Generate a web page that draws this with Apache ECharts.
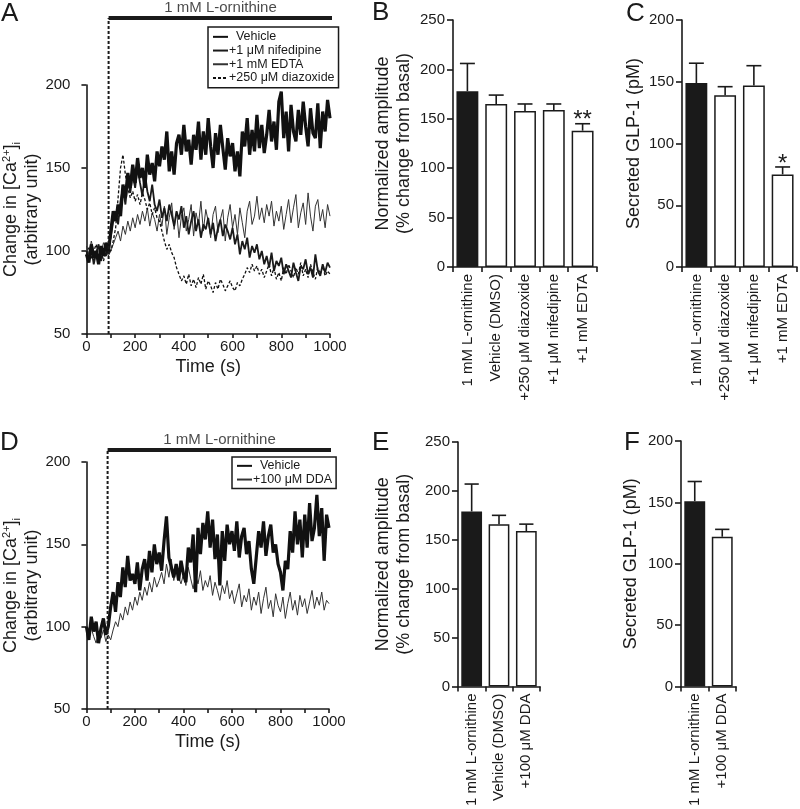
<!DOCTYPE html>
<html>
<head>
<meta charset="utf-8">
<script src="https://cdn.jsdelivr.net/npm/echarts@6/dist/echarts.min.js"></script>
<style>html,body{margin:0;padding:0;background:#fff}#main{width:800px;height:809px}</style>
</head>
<body>
<div id="main"></div>
<script>
// ---------------- DATA ----------------
const timeStep = 10; // seconds between samples
const timeTicks = [0, 200, 400, 600, 800, 1000];
const onsetTime = 100;
const barEndTime = 1010;
const treatmentLabel = '1 mM L-ornithine';

const aVehicle = [98,93,104,96,100,92,103,97,105,99,
  112,124,118,128,121,140,132,147,138,152,
  141,156,144,150,138,158,146,153,142,160,
  151,163,155,172,148,160,146,165,170,158,
  176,160,167,152,170,161,178,155,172,158,
  180,163,150,171,158,176,162,149,168,157,
  165,148,160,145,172,163,180,158,173,160,
  182,162,176,159,170,185,166,178,161,190,
  196,168,184,160,188,172,166,185,170,190,
  175,163,186,171,168,189,162,184,172,191,
  180];
const aNifedipine = [100,95,102,92,99,104,94,101,97,103,
  108,118,124,116,130,138,128,142,135,146,
  138,150,141,133,147,136,130,140,128,124,
  131,120,126,118,128,122,115,124,119,127,
  114,121,110,118,124,112,119,108,116,113,
  120,110,117,106,114,119,109,116,112,107,
  114,104,110,98,106,101,108,96,103,99,
  104,95,100,92,97,90,99,88,94,91,
  96,86,92,88,84,93,87,82,91,89,
  95,86,90,84,98,88,85,92,87,93,
  90];
const aEdta = [103,98,106,100,96,102,99,105,101,97,
  100,104,108,112,106,115,110,118,112,120,
  114,122,116,124,118,126,115,123,119,112,
  122,115,127,110,120,129,113,124,108,121,
  126,112,119,128,109,123,116,130,112,125,
  118,108,122,127,111,119,125,106,120,128,
  114,122,110,126,117,108,124,130,116,121,
  133,119,126,117,128,121,130,115,124,118,
  127,113,122,131,117,126,134,114,123,129,
  116,135,121,112,127,131,118,125,114,128,
  121];
const aDiazoxide = [98,102,95,100,104,97,101,94,99,103,
  100,106,114,132,150,158,146,138,132,136,
  130,134,128,135,131,125,129,122,126,120,
  118,112,106,101,104,99,96,90,86,82,
  85,80,86,79,83,78,84,80,86,77,
  82,79,75,81,77,83,80,76,79,82,
  78,76,81,79,83,86,90,87,92,88,
  91,86,89,84,88,92,85,90,83,87,
  82,90,86,92,88,84,90,86,93,85,
  89,84,92,87,83,90,86,91,85,88,
  86];
const dVehicle = [100,92,106,97,103,90,99,105,95,100,
  112,121,109,127,118,136,124,143,128,132,
  126,139,122,135,141,128,146,133,150,138,
  145,134,152,167,142,136,130,138,128,140,
  132,127,148,139,156,121,160,144,163,153,
  170,148,165,141,156,125,158,140,162,150,
  158,146,164,142,155,160,144,152,135,126,
  142,158,148,164,143,155,162,145,150,138,
  133,122,140,135,158,145,170,150,165,142,
  168,148,175,152,160,180,155,172,140,168,
  160];
const dDda = [96,92,99,94,90,97,93,98,91,95,
  92,98,103,100,108,104,112,107,115,110,
  118,113,121,116,124,119,127,121,130,124,
  128,133,126,138,130,141,128,135,130,126,
  132,125,136,129,123,131,126,134,122,128,
  124,131,119,127,122,116,125,120,128,117,
  122,114,120,126,112,119,115,123,110,118,
  113,121,108,117,124,111,116,106,120,113,
  109,118,105,114,121,110,116,107,119,112,
  117,108,115,122,111,118,113,121,110,116,
  114];

const bCats = ['1 mM L-ornithine','Vehicle (DMSO)','+250 μM diazoxide','+1 μM nifedipine','+1 mM EDTA'];
const bMeans = [178,165,158,159,138];
const bErr = [28,9,7,6,7];
const bSig = ['','','','','**'];

const cCats = ['1 mM L-ornithine','+250 μM diazoxide','+1 μM nifedipine','+1 mM EDTA'];
const cMeans = [149,139,147,75];
const cErr = [16,7,16,6];
const cSig = ['','','','*'];

const eCats = ['1 mM L-ornithine','Vehicle (DMSO)','+100 μM DDA'];
const eMeans = [179,166,159];
const eErr = [28,9,7];
const eSig = ['','',''];

const fCats = ['1 mM L-ornithine','+100 μM DDA'];
const fMeans = [151,122];
const fErr = [16,6];
const fSig = ['',''];

// ---------------- CHART ----------------
const FONT = '"Liberation Sans", Arial, Helvetica, sans-serif';
const INK = '#1a1a1a';
const toPairs = arr => arr.map((v, i) => [i * timeStep, v]);

const axLine = {show: true, lineStyle: {color: INK, width: 1.6}};
const axTick = {show: true, length: 5, lineStyle: {color: INK, width: 1.6}};
const lblStyle = {color: INK, fontFamily: FONT, fontSize: 15};

const grids = [
  {left: 84, top: 85, width: 246, height: 249},   // 0 A
  {left: 84, top: 18, width: 246, height: 316},   // 1 A overlay
  {left: 453, top: 20, width: 144, height: 247},  // 2 B
  {left: 682, top: 20, width: 115, height: 247},  // 3 C
  {left: 83, top: 462, width: 246, height: 247},  // 4 D
  {left: 83, top: 450, width: 246, height: 259},  // 5 D overlay
  {left: 458, top: 442, width: 82, height: 247},  // 6 E
  {left: 681, top: 441, width: 55, height: 248}   // 7 F
];

function timeX(gi) {
  return {type: 'value', gridIndex: gi, min: 0, max: 1000, interval: 100,
    axisLine: axLine, axisTick: {show: true, length: 4, lineStyle: {color: INK, width: 1.6}},
    axisLabel: Object.assign({margin: 5, formatter: v => timeTicks.indexOf(v) >= 0 ? String(v) : ''}, lblStyle),
    splitLine: {show: false},
    name: 'Time (s)', nameLocation: 'middle', nameGap: 24,
    nameTextStyle: {fontFamily: FONT, fontSize: 18, color: INK}};
}
const caName = '{t|Change in [Ca}{sup|2+}{t|]}{sub|i}\n{t|(arbitrary unit)}';
const caRich = {t: {fontFamily: FONT, fontSize: 18, color: INK, lineHeight: 21},
  sup: {fontFamily: FONT, fontSize: 11, color: INK, verticalAlign: 'top', lineHeight: 21},
  sub: {fontFamily: FONT, fontSize: 11, color: INK, verticalAlign: 'bottom', lineHeight: 21, padding: [8, 0, 0, 0]}};
function caY(gi) {
  return {type: 'value', gridIndex: gi, min: 50, max: 200, interval: 50, offset: 7,
    axisLine: axLine, axisTick: axTick, axisLabel: Object.assign({margin: 9}, lblStyle),
    splitLine: {show: false},
    name: caName, nameLocation: 'middle', nameGap: 33, nameTextStyle: {rich: caRich}};
}
function hiddenX(gi) { return {type: 'value', gridIndex: gi, min: 0, max: 1000, show: false}; }
function hiddenY(gi, mx) { return {type: 'value', gridIndex: gi, min: 50, max: mx, show: false}; }
function catX(gi, cats) {
  return {type: 'category', gridIndex: gi, data: cats, axisLine: axLine,
    axisTick: {show: true, length: 5, alignWithLabel: false, lineStyle: {color: INK, width: 1.6}},
    axisLabel: Object.assign({rotate: 90, margin: 7, interval: 0}, lblStyle)};
}
function valY(gi, mx, iv, name, gap) {
  return {type: 'value', gridIndex: gi, min: 0, max: mx, interval: iv,
    axisLine: axLine, axisTick: {show: true, length: 6, lineStyle: {color: INK, width: 1.6}},
    axisLabel: Object.assign({margin: 8}, lblStyle), splitLine: {show: false},
    name: name, nameLocation: 'middle', nameGap: gap,
    nameTextStyle: {fontFamily: FONT, fontSize: 18, color: INK, lineHeight: 21}};
}

const xAxes = [timeX(0), hiddenX(1), catX(2, bCats), catX(3, cCats), timeX(4), hiddenX(5), catX(6, eCats), catX(7, fCats)];
const yAxes = [caY(0), hiddenY(1, 240.4),
  valY(2, 250, 50, 'Normalized amplitude\n(% change from basal)', 38),
  valY(3, 200, 50, 'Secreted GLP-1 (pM)', 37),
  caY(4), hiddenY(5, 207.3),
  valY(6, 250, 50, 'Normalized amplitude\n(% change from basal)', 43),
  valY(7, 200, 50, 'Secreted GLP-1 (pM)', 39)];

function trace(name, arr, gi, width, type, color) {
  return {type: 'line', name: name, xAxisIndex: gi, yAxisIndex: gi, data: toPairs(arr),
    symbol: 'none', silent: true, animation: false, z: 3,
    lineStyle: {color: color, width: width, type: type}, itemStyle: {color: color}};
}
function overlay(gi, topVal) {
  return [
    {type: 'line', xAxisIndex: gi, yAxisIndex: gi, data: [[onsetTime, topVal], [barEndTime, topVal]],
      symbol: 'none', clip: false, animation: false, lineStyle: {color: INK, width: 4}},
    {type: 'line', xAxisIndex: gi, yAxisIndex: gi, data: [[onsetTime, 50], [onsetTime, topVal]],
      symbol: 'none', clip: false, animation: false, lineStyle: {color: INK, width: 2, type: [3, 2]}},
    {type: 'scatter', xAxisIndex: gi, yAxisIndex: gi, data: [[555, topVal]], symbolSize: 0, clip: false,
      animation: false,
      label: {show: true, position: 'top', distance: 3, formatter: treatmentLabel,
        fontFamily: FONT, fontSize: 15, color: INK}}
  ];
}
function bars(gi, means) {
  return {type: 'bar', xAxisIndex: gi, yAxisIndex: gi, barWidth: '76%', animation: false,
    data: means.map((m, i) => ({value: m, itemStyle: {color: i === 0 ? INK : '#fff', borderColor: INK, borderWidth: 1.5}}))};
}
function errs(gi, means, err, sig, sigSize) {
  return {type: 'custom', xAxisIndex: gi, yAxisIndex: gi, animation: false, z: 5,
    data: means.map((m, i) => [i, m, err[i]]),
    renderItem: function (params, api) {
      const i = api.value(0), m = api.value(1), e = api.value(2);
      const p0 = api.coord([i, m]);
      const p1 = api.coord([i, m + e]);
      const half = api.size([1, 0])[0] * 0.26;
      const ch = [
        {type: 'line', shape: {x1: p0[0], y1: p0[1], x2: p1[0], y2: p1[1]}, style: {stroke: INK, lineWidth: 1.6}},
        {type: 'line', shape: {x1: p1[0] - half, y1: p1[1], x2: p1[0] + half, y2: p1[1]}, style: {stroke: INK, lineWidth: 1.6}}
      ];
      if (sig[i]) {
        ch.push({type: 'text', style: {text: sig[i], x: p1[0], y: p1[1] + 9, align: 'center', verticalAlign: 'bottom',
          font: sigSize + 'px ' + FONT, fill: INK}});
      }
      return {type: 'group', children: ch};
    }};
}

const series = [
  trace('+1 mM EDTA', aEdta, 0, 1, 'solid', '#333'),
  trace('+250 μM diazoxide', aDiazoxide, 0, 1.3, [3, 2], '#111'),
  trace('+1 μM nifedipine', aNifedipine, 0, 1.8, 'solid', '#1a1a1a'),
  trace('Vehicle', aVehicle, 0, 3.2, 'solid', '#111'),
  ...overlay(1, 240.4),
  bars(2, bMeans), errs(2, bMeans, bErr, bSig, 24),
  bars(3, cMeans), errs(3, cMeans, cErr, cSig, 24),
  trace('+100 μM DDA', dDda, 4, 1, 'solid', '#333'),
  trace('Vehicle', dVehicle, 4, 3.2, 'solid', '#111'),
  ...overlay(5, 207.3),
  bars(6, eMeans), errs(6, eMeans, eErr, eSig, 24),
  bars(7, fMeans), errs(7, fMeans, fErr, fSig, 24)
];

const legendBase = {orient: 'vertical', borderColor: INK, borderWidth: 1.5, borderRadius: 0,
  itemWidth: 15, itemHeight: 10, itemGap: 0, selectedMode: false, backgroundColor: '#fff',
  itemStyle: {opacity: 0, borderWidth: 0},
  textStyle: {fontFamily: FONT, fontSize: 12.5, color: INK, lineHeight: 13.7, padding: [0, 0, 0, -4]},
  formatter: n => n === 'Vehicle' ? '  Vehicle' : n, z: 10};

const letters = [['A', 1, 1], ['B', 372, 0], ['C', 626, 1], ['D', 0, 430], ['E', 372, 430], ['F', 624, 430]];

const option = {
  backgroundColor: '#fff',
  animation: false,
  grid: grids,
  xAxis: xAxes,
  yAxis: yAxes,
  legend: [
    Object.assign({}, legendBase, {left: 208, top: 27, padding: [3, 4, 3, 4],
      data: ['Vehicle', '+1 μM nifedipine', '+1 mM EDTA', '+250 μM diazoxide']}),
    Object.assign({}, legendBase, {left: 232, top: 457, padding: [2, 4, 2, 4],
      data: ['Vehicle', '+100 μM DDA']})
  ],
  graphic: letters.map(l => ({type: 'text', left: l[1], top: l[2],
    style: {text: l[0], font: '26px ' + FONT, fill: INK}})),
  series: series
};

const chart = echarts.init(document.getElementById('main'), null, {renderer: 'canvas'});
chart.setOption(option);
</script>
</body>
</html>
